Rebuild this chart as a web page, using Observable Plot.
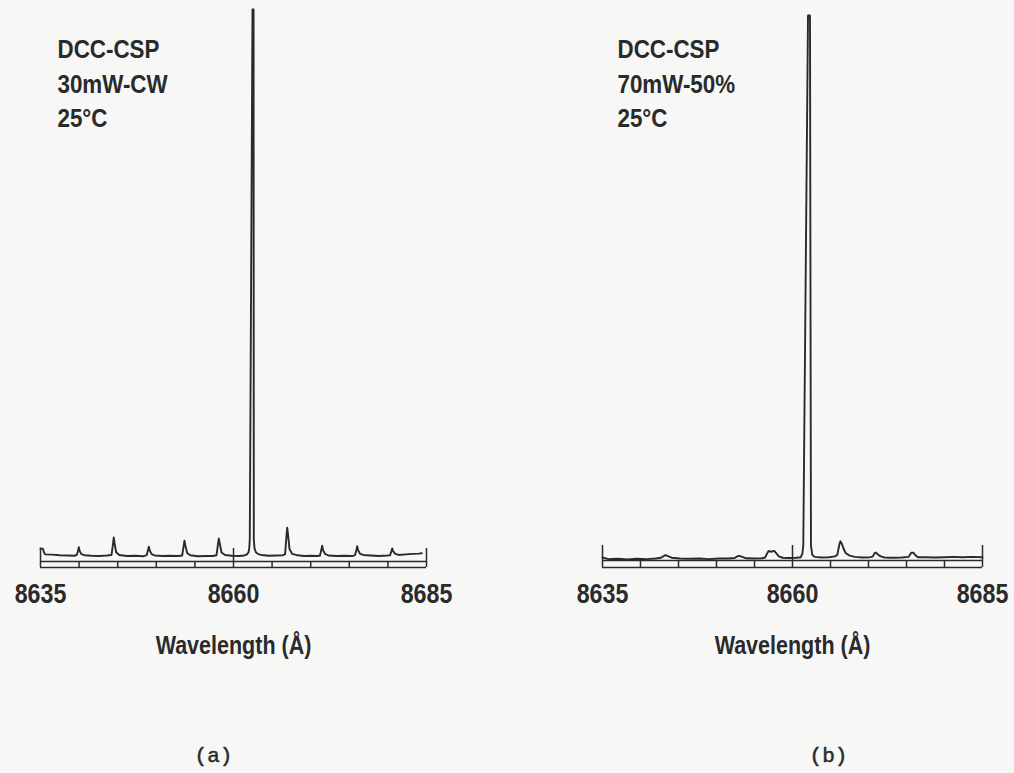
<!DOCTYPE html>
<html>
<head>
<meta charset="utf-8">
<script src="https://cdn.jsdelivr.net/npm/d3@7"></script>
<script src="https://cdn.jsdelivr.net/npm/@observablehq/plot@0.6"></script>
<style>
  html, body { margin: 0; padding: 0; background: #f7f7f6; }
  #wrap { position: relative; width: 1014px; height: 773px; overflow: hidden; }
  #wrap > svg { position: absolute; top: 0; margin: 0; }
</style>
</head>
<body>
<div id="wrap"></div>
<script>
// ---- data ----
const tickLabels = [8635, 8660, 8685];
const majorTicks = [8635, 8660, 8685];
const minorTicks = [8640, 8645, 8650, 8655, 8665, 8670, 8675, 8680];
const xTitle = "Wavelength (Å)";

const infoA = "DCC-CSP\n30mW-CW\n25°C";
const infoB = "DCC-CSP\n70mW-50%\n25°C";
const captionA = "(a)";
const captionB = "(b)";

// [wavelength (Å), relative intensity]
const spectrumA = [
  [8635.0, 1.28], [8635.3, 1.25], [8635.45, 0.6], [8635.6, 0.2], [8636.5, 0.15], [8637.5, 0.05], [8638.5, 0.0], [8639.4, -0.05],
  [8639.7, 0.1], [8639.88, 0.9], [8639.96, 1.5], [8640.08, 0.8], [8640.3, 0.25], [8640.7, 0.05],
  [8641.6, -0.05], [8642.6, -0.1], [8643.6, 0.0],
  [8644.2, 0.1], [8644.38, 2.0], [8644.49, 3.3], [8644.6, 2.2], [8644.8, 0.6], [8645.2, 0.1],
  [8646.2, -0.1], [8647.3, -0.05], [8648.3, -0.15],
  [8648.75, 0.05], [8648.93, 1.0], [8649.03, 1.6], [8649.15, 0.9], [8649.4, 0.25], [8649.8, 0.0],
  [8650.8, -0.1], [8651.8, -0.05], [8652.8, -0.1],
  [8653.35, 0.0], [8653.54, 1.7], [8653.65, 2.7], [8653.77, 1.8], [8654.0, 0.45], [8654.4, 0.05],
  [8655.4, -0.15], [8656.4, -0.1], [8657.3, -0.1],
  [8657.8, 0.05], [8657.98, 2.0], [8658.1, 3.1], [8658.22, 2.2], [8658.45, 0.55], [8658.9, 0.1],
  [8659.8, -0.05], [8660.7, -0.1], [8661.4, 0.0],
  [8661.75, 0.2], [8661.95, 0.6], [8662.05, 1.5], [8662.11, 3.0], [8662.46, 100], [8662.6, 100], [8662.63, 3.0], [8662.72, 1.3], [8662.9, 0.6], [8663.2, 0.25], [8663.6, 0.1],
  [8664.6, -0.05], [8665.6, 0.0], [8666.4, 0.05],
  [8666.68, 0.2], [8666.86, 3.5], [8666.96, 5.1], [8667.07, 3.8], [8667.25, 1.2], [8667.6, 0.3], [8668.1, 0.1],
  [8669.1, -0.1], [8670.1, -0.05], [8670.9, -0.1],
  [8671.2, 0.0], [8671.38, 1.1], [8671.49, 1.8], [8671.6, 1.0], [8671.85, 0.3], [8672.3, 0.0],
  [8673.3, -0.1], [8674.3, -0.05], [8675.4, -0.1],
  [8675.74, 0.05], [8675.92, 1.0], [8676.02, 1.7], [8676.13, 1.0], [8676.4, 0.3], [8676.8, 0.1],
  [8677.8, 0.0], [8678.8, -0.1], [8679.9, 0.0],
  [8680.28, 0.05], [8680.46, 0.8], [8680.56, 1.3], [8680.67, 0.8], [8680.95, 0.3], [8681.4, 0.1],
  [8682.3, 0.2], [8683.2, 0.3], [8684.0, 0.35], [8684.4, 0.4]
];

const spectrumB = [
  [8635.0, 0.1], [8635.8, -0.2], [8637.0, -0.15], [8638.3, -0.25], [8639.5, -0.15], [8640.8, -0.2], [8642.0, -0.1],
  [8642.7, 0.05], [8643.1, 0.4], [8643.3, 0.55], [8643.6, 0.35], [8644.1, 0.05],
  [8645.2, -0.1], [8646.5, -0.15], [8647.8, -0.1], [8649.0, -0.2], [8650.3, -0.1], [8651.6, -0.1],
  [8652.4, 0.0], [8652.8, 0.35], [8653.0, 0.4], [8653.4, 0.2], [8653.9, -0.05],
  [8655.0, -0.1], [8656.0, -0.05],
  [8656.4, 0.1], [8656.65, 0.8], [8656.85, 1.3], [8657.2, 1.15], [8657.6, 1.3], [8657.85, 0.9], [8658.2, 0.3], [8658.7, 0.05],
  [8659.6, 0.0], [8660.5, 0.05], [8661.1, 0.15],
  [8661.3, 0.8], [8661.42, 2.3], [8662.04, 100], [8662.3, 100], [8662.43, 2.3], [8662.6, 0.6], [8662.9, 0.2],
  [8663.8, 0.1], [8664.8, 0.15], [8665.6, 0.3],
  [8665.9, 0.6], [8666.15, 2.4], [8666.3, 3.1], [8666.5, 2.6], [8666.7, 1.8], [8667.0, 0.9], [8667.5, 0.45], [8668.2, 0.2],
  [8669.2, 0.1], [8670.2, 0.15],
  [8670.55, 0.25], [8670.8, 0.9], [8670.95, 1.0], [8671.2, 0.7], [8671.6, 0.3], [8672.1, 0.1],
  [8673.2, 0.05], [8674.4, 0.1], [8675.3, 0.2],
  [8675.45, 0.6], [8675.65, 1.0], [8675.9, 1.0], [8676.1, 0.6], [8676.5, 0.15],
  [8677.5, 0.15], [8678.7, 0.1], [8680.0, 0.15], [8681.2, 0.2], [8682.4, 0.15], [8683.6, 0.2], [8685.0, 0.15]
];

// ---- drawing ----
const ink = "#2a2a2a";
const sans = "'Liberation Sans', Arial, 'DejaVu Sans', sans-serif";
const mono = "'Liberation Mono', 'DejaVu Sans Mono', monospace";

function panel(cfg) {
  return Plot.plot({
    width: 507,
    height: 773,
    marginLeft: cfg.ml,
    marginRight: cfg.mr,
    marginTop: cfg.mt,
    marginBottom: 206,
    style: { background: "none", fontFamily: sans, fontWeight: "bold", color: ink, overflow: "visible" },
    x: { domain: [8635, 8685] },
    y: { domain: [cfg.yLo, 100], axis: null },
    marks: [
      Plot.ruleY([cfg.yAxis], { stroke: ink, strokeWidth: 1.7 }),
      Plot.ruleY([cfg.yLo], { stroke: ink, strokeWidth: 1.7 }),
      Plot.ruleX(minorTicks, { y1: cfg.yLo, y2: cfg.yAxis, stroke: ink, strokeWidth: 1.5 }),
      Plot.ruleX(majorTicks, { y1: cfg.yLo, y2: cfg.yBracket, stroke: ink, strokeWidth: 1.5 }),
      Plot.line(cfg.data, { x: d => d[0], y: d => d[1], stroke: ink, strokeWidth: 1.9, strokeLinejoin: "round" }),
      Plot.axisX({ ticks: tickLabels, tickSize: 0, tickPadding: 16, tickFormat: d => String(d), fontSize: 27, label: null, fill: ink }),
      Plot.text([xTitle], { frameAnchor: "bottom", text: d => d, lineAnchor: "top", dy: 69, fontSize: 25, fontWeight: "bold", fill: ink }),
      Plot.text([cfg.info], { frameAnchor: "top-left", text: d => d, lineAnchor: "top", textAnchor: "start", dx: cfg.infoDx, dy: cfg.infoDy, lineHeight: 1.33, fontSize: 26, fontWeight: "bold", fill: ink }),
      Plot.text([cfg.caption], { frameAnchor: "bottom", text: d => d, lineAnchor: "middle", dx: cfg.capDx, dy: 188, fontSize: 21, fontWeight: "normal", fontFamily: mono, fill: ink, stroke: ink, strokeWidth: 0.5 })
    ]
  });
}

// narrow the condensed-style label texts (keep them as real text)
function condense(svg, factor) {
  svg.querySelectorAll("text").forEach(t => {
    const holder = t.closest("[font-family]");
    const fam = holder ? holder.getAttribute("font-family") : "";
    if (fam && fam.indexOf("Mono") >= 0) return;
    const spans = t.querySelectorAll("tspan");
    const parts = spans.length ? Array.from(spans) : [t];
    parts.forEach(p => {
      const w = p.getComputedTextLength();
      if (w > 0) {
        p.setAttribute("textLength", (w * factor).toFixed(2));
        p.setAttribute("lengthAdjust", "spacingAndGlyphs");
      }
    });
  });
}

const wrap = document.getElementById("wrap");
const a = panel({ data: spectrumA, ml: 40, mr: 81, mt: 9, yLo: -2.2, yAxis: -1.1, yBracket: 1.28, info: infoA, infoDx: 17, infoDy: 24, caption: captionA, capDx: -20 });
const b = panel({ data: spectrumB, ml: 95, mr: 32, mt: 15, yLo: -1.75, yAxis: -0.46, yBracket: 2.3, info: infoB, infoDx: 15, infoDy: 18, caption: captionB, capDx: 36 });
a.style.left = "0px";
b.style.left = "507px";
wrap.appendChild(a);
wrap.appendChild(b);
condense(a, 0.86);
condense(b, 0.86);
</script>
</body>
</html>
